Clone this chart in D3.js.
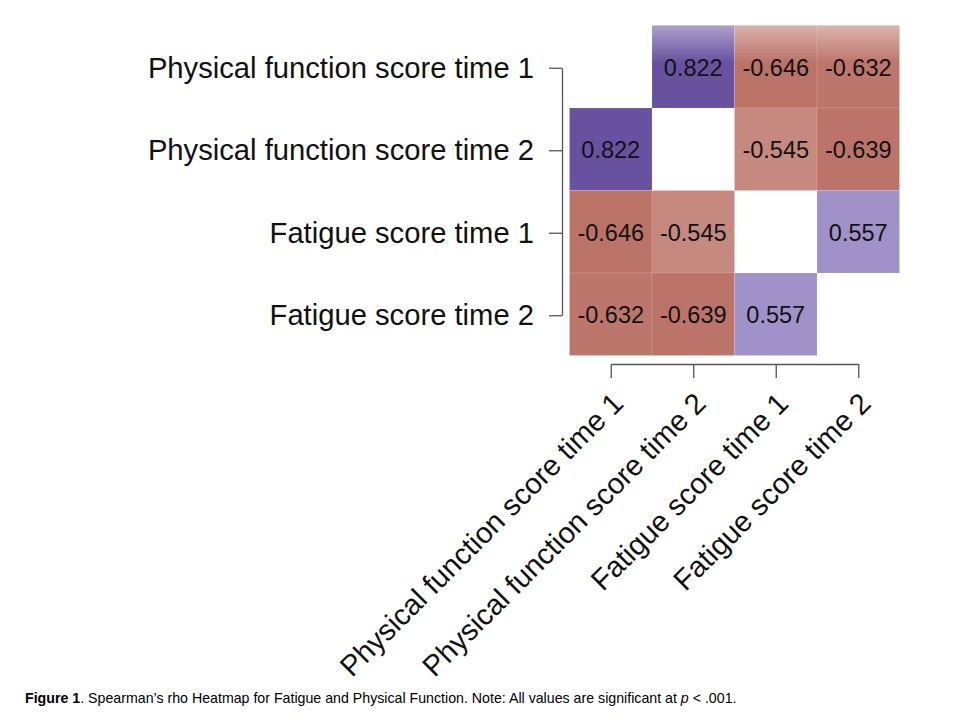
<!DOCTYPE html>
<html><head><meta charset="utf-8">
<script src="https://cdn.jsdelivr.net/npm/d3@7/dist/d3.min.js"></script>
<style>body{margin:0;background:#fff;} svg{display:block;font-family:"Liberation Sans",Arial,sans-serif;}</style>
</head><body>
<svg id="chart" width="959" height="722"></svg>
<script>
const variables = ["Physical function score time 1","Physical function score time 2","Fatigue score time 1","Fatigue score time 2"];
const rowPF1 = [null, 0.822, -0.646, -0.632];
const rowPF2 = [0.822, null, -0.545, -0.639];
const rowF1  = [-0.646, -0.545, null, 0.557];
const rowF2  = [-0.632, -0.639, 0.557, null];
const rhoRows = [rowPF1, rowPF2, rowF1, rowF2];

const svg = d3.select("#chart");
const x = d3.scaleBand().domain(variables).range([569.5, 899.5]);
const y = d3.scaleBand().domain(variables).range([25.5, 355.5]);
const color = d3.scaleLinear().domain([-1, 0, 0.5, 1])
  .range(["rgb(150,38,22)", "#ffffff", "rgb(172,159,209)", "rgb(66,40,133)"]);
const fmt = d3.formatLocale({decimal: ".", thousands: ",", grouping: [3], currency: ["", ""], minus: "-"}).format(".3f");

const cells = [];
rhoRows.forEach((row, i) => row.forEach((v, j) => { if (v !== null) cells.push({r: variables[i], c: variables[j], v}); }));

const defs = svg.append("defs");
const g = defs.append("linearGradient").attr("id","fade").attr("x1",0).attr("y1",0).attr("x2",0).attr("y2",1);
g.append("stop").attr("offset","0%").attr("stop-color","#fff").attr("stop-opacity",0.45);
g.append("stop").attr("offset","45%").attr("stop-color","#fff").attr("stop-opacity",0);

svg.append("g").selectAll("rect").data(cells).join("rect")
  .attr("x", d => x(d.c)).attr("y", d => y(d.r))
  .attr("width", x.bandwidth()).attr("height", y.bandwidth())
  .attr("fill", d => color(d.v))
  .attr("stroke", "rgba(255,255,255,0.12)").attr("stroke-width", 1);

// faded top edge of the first row
svg.append("g").selectAll("rect").data(cells.filter(d => d.r === variables[0])).join("rect")
  .attr("x", d => x(d.c)).attr("y", d => y(d.r))
  .attr("width", x.bandwidth()).attr("height", y.bandwidth())
  .attr("fill", "url(#fade)");

svg.append("g").selectAll("text").data(cells).join("text")
  .attr("x", d => x(d.c) + x.bandwidth()/2).attr("y", d => y(d.r) + y.bandwidth()/2)
  .attr("text-anchor","middle").attr("dy","0.38em")
  .attr("font-size", 23.5).attr("fill","#111")
  .text(d => fmt(d.v));

// axes
const yp = d3.scalePoint().domain(variables).range([y(variables[0]) + y.bandwidth()/2, y(variables[3]) + y.bandwidth()/2]);
const xp = d3.scalePoint().domain(variables).range([x(variables[0]) + x.bandwidth()/2, x(variables[3]) + x.bandwidth()/2]);

const ya = svg.append("g").attr("transform","translate(562,1)")
  .call(d3.axisLeft(yp).tickSize(13).tickSizeOuter(0).tickPadding(15));
ya.selectAll("text").attr("font-size", 29.2).attr("fill","#111").attr("font-family","'Liberation Sans',Arial,sans-serif");

const xa = svg.append("g").attr("transform","translate(0,364)")
  .call(d3.axisBottom(xp).tickSize(14).tickSizeOuter(0).tickFormat(""));
[ya, xa].forEach(a => { a.selectAll("path,line").attr("stroke","#555").attr("stroke-width",1.3); });

svg.append("g").selectAll("text").data(variables).join("text")
  .attr("transform", d => `translate(${xp(d) + 7},${398}) rotate(-45)`)
  .attr("text-anchor","end").attr("dy","0.35em")
  .attr("font-size", 29.2).attr("fill","#111")
  .text(d => d);

// caption
const cap = svg.append("text").attr("x", 25).attr("y", 703).attr("font-size", 14.2).attr("fill","#000");
cap.append("tspan").attr("font-weight","bold").text("Figure 1");
cap.append("tspan").text(". Spearman\u2019s rho Heatmap for Fatigue and Physical Function. Note: All values are significant at ");
cap.append("tspan").attr("font-style","italic").text("p");
cap.append("tspan").text(" < .001.");
</script>
</body></html>
